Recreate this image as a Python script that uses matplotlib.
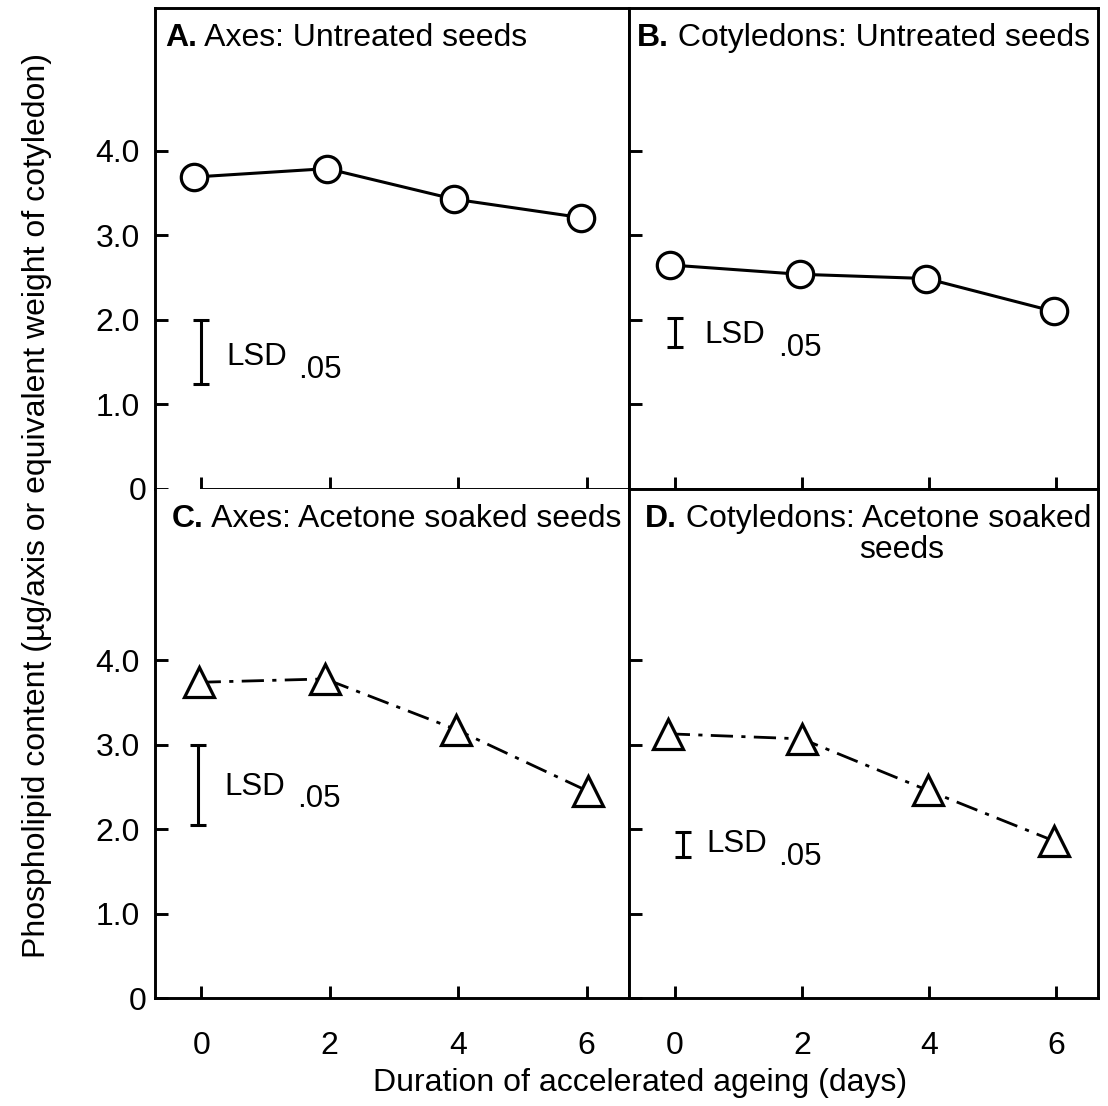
import numpy as np
import matplotlib
matplotlib.use("Agg")
import matplotlib.pyplot as plt

plt.rcParams['font.family'] = ['Liberation Sans', 'DejaVu Sans']

# ==== Data ====
# x positions of the plotted points (days), as placed in the figure
days_A = [-0.12, 1.96, 3.93, 5.92]
vals_A = [3.69, 3.79, 3.43, 3.21]      # axes, untreated

days_B = [-0.07, 1.97, 3.96, 5.97]
vals_B = [2.65, 2.54, 2.49, 2.10]      # cotyledons, untreated

days_C = [-0.04, 1.93, 3.97, 6.02]
vals_C = [3.74, 3.78, 3.18, 2.45]      # axes, acetone soaked

days_D = [-0.11, 2.00, 3.98, 5.97]
vals_D = [3.13, 3.07, 2.46, 1.86]      # cotyledons, acetone soaked

# LSD .05 bars: x, low, high
lsd_A = (0.0, 1.24, 2.00)
lsd_B = (0.0, 1.68, 2.02)
lsd_C = (-0.05, 2.05, 3.00)
lsd_D = (0.13, 1.67, 1.97)

x_ticks = [0, 2, 4, 6]
x_ticklabels = ["0", "2", "4", "6"]
y_ticks = [0, 1, 2, 3, 4]
y_ticklabels = ["0", "1.0", "2.0", "3.0", "4.0"]

titles = {
    "A": ("A.", " Axes: Untreated seeds"),
    "B": ("B.", " Cotyledons: Untreated seeds"),
    "C": ("C.", " Axes: Acetone soaked seeds"),
    "D": ("D.", " Cotyledons: Acetone soaked"),
}

FS = 23
XLIM = (-0.72, 6.66)

# ==== Layout (pixel boxes of the panels) ====
W, H = 1108, 1106
fig = plt.figure(figsize=(W / 100, H / 100), dpi=100)
L, M, R = 155 / W, 629 / W, 1098 / W
T, MID, BOT = 1 - 8 / H, 1 - 489 / H, 1 - 998 / H

axA = fig.add_axes([L, MID, M - L, T - MID])
axB = fig.add_axes([M, MID, R - M, T - MID])
axC = fig.add_axes([L, BOT, M - L, MID - BOT])
axD = fig.add_axes([M, BOT, R - M, MID - BOT])


def style(ax, ylim, xlabels, ylabels):
    ax.set_xlim(*XLIM)
    ax.set_ylim(*ylim)
    for s in ax.spines.values():
        s.set_linewidth(2.1)
    ax.set_xticks(x_ticks)
    ax.set_yticks(y_ticks)
    ax.tick_params(direction="in", length=9, width=2.1, labelsize=FS,
                   top=False, right=False)
    ax.tick_params(axis="x", pad=24)
    ax.tick_params(axis="y", pad=11)
    ax.set_xticklabels(x_ticklabels if xlabels else [])
    ax.set_yticklabels(y_ticklabels if ylabels else [])
    if ylabels:
        ax.yaxis.get_major_ticks()[0].set_pad(6)


def title(ax, key, x, y):
    b, rest = titles[key]
    t = ax.text(x, y, b, transform=ax.transAxes, fontsize=FS,
                fontweight="bold", ha="left", va="center")
    ax.annotate(rest, xy=(1, 0), xycoords=t, fontsize=FS,
                ha="left", va="bottom")


def lsd(ax, bar, tx, ty, sx, sy):
    x, lo, hi = bar
    ax.errorbar([x], [(lo + hi) / 2], yerr=[(hi - lo) / 2], fmt="none",
                ecolor="black", elinewidth=2.2, capsize=5.5, capthick=2.2)
    ax.text(tx, ty, "LSD", fontsize=22.5, ha="left", va="baseline")
    ax.text(sx, sy, ".05", fontsize=22.5, ha="left", va="baseline")


circ = dict(color="black", lw=2.2, marker="o", ms=19, mfc="white",
            mec="black", mew=2.3, zorder=3)
tri = dict(color="black", lw=2.0, ls=(0, (8, 3, 1.5, 3)), marker="^",
           ms=22, mfc="white", mec="black", mew=2.3, zorder=3)

# A
style(axA, (0, 5.69), False, True)
axA.spines["bottom"].set_bounds(0, XLIM[1])
axA.plot(days_A, vals_A, **circ)
title(axA, "A", 0.021, 0.938)
lsd(axA, lsd_A, 0.39, 1.47, 1.51, 1.31)

# B
style(axB, (0, 5.69), False, False)
axB.plot(days_B, vals_B, **circ)
title(axB, "B", 0.017, 0.938)
lsd(axB, lsd_B, 0.47, 1.73, 1.62, 1.57)

# C
style(axC, (0, 6.03), True, True)
axC.spines["top"].set_visible(False)
axC.plot(days_C, vals_C, **tri)
title(axC, "C", 0.036, 0.942)
lsd(axC, lsd_C, 0.36, 2.41, 1.49, 2.26)

# D
style(axD, (0, 6.03), True, False)
axD.plot(days_D, vals_D, **tri)
title(axD, "D", 0.034, 0.942)
axD.text(0.582, 0.881, "seeds", transform=axD.transAxes, fontsize=FS,
         ha="center", va="center")
lsd(axD, lsd_D, 0.49, 1.73, 1.63, 1.57)

fig.text(37 / W, 1 - 505 / H,
         "Phospholipid content (\u00b5g/axis or equivalent weight of cotyledon)",
         rotation=90, ha="center", va="center", fontsize=FS)
fig.text(640 / W, 1 - 1083 / H, "Duration of accelerated ageing (days)",
         ha="center", va="center", fontsize=FS)

fig.savefig("out.png", dpi=100, facecolor="white")
